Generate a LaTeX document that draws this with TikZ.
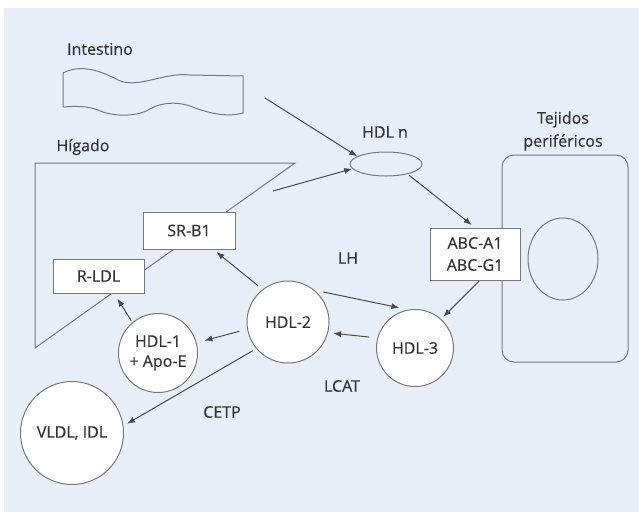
\documentclass[tikz,border=0pt]{standalone}
\usepackage{fontspec}
\setmainfont{Open Sans}[UprightFeatures={FakeBold=0.4}]
\usetikzlibrary{arrows.meta,shapes.geometric}
\definecolor{bgblue}{HTML}{E8EEF8}
\definecolor{edge}{HTML}{77777D}
\definecolor{ink}{HTML}{333333}
\definecolor{linkc}{HTML}{4A4A4A}
\tikzset{
  x=1pt, y=-1pt,
  every node/.style={text=ink, font=\fontsize{16}{19}\selectfont},
  outline/.style={draw=edge, line width=1pt},
  labelbox/.style={outline, fill=white, rectangle, inner sep=0pt, align=center},
  particle/.style={outline, fill=white, circle, inner sep=0pt, align=center},
  link/.style={draw=linkc, line width=1pt, -{Latex[length=8pt,width=6pt]}},
  plain/.style={align=center}
}
\begin{document}
\begin{tikzpicture}
% canvas
\useasboundingbox (0,0) rectangle (639,512);
\fill[white] (0,0) rectangle (639,512);
\fill[bgblue] (4,8) rectangle (639,512);

% intestine ribbon
\draw[outline] (63,107) -- (63,73)
  .. controls (80,64) and (100,70) .. (120,81)
  .. controls (140,88) and (165,72) .. (190,75)
  -- (243,76) -- (243,113)
  .. controls (225,118) and (205,112) .. (190,106)
  .. controls (175,101) and (160,103) .. (150,109)
  .. controls (135,118) and (110,116) .. (98,110)
  .. controls (88,106) and (75,106) .. (63,107);
\node[plain] (intlbl) at (100,49) {Intestino};

% liver outline
\draw[outline] (35,163) -- (295,163) -- (35,348) -- cycle;
\node[plain] (livlbl) at (83,147) {Hígado};

% peripheral tissue cell
\draw[outline, rounded corners=12pt] (502,155) rectangle (628,362);
\node[outline, ellipse, minimum width=70pt, minimum height=82pt, inner sep=0pt] (nucleus) at (563,259) {};
\node[plain, font=\fontsize{16}{23}\selectfont] (tislbl) at (563,131) {Tejidos\\periféricos};

% nascent HDL
\node[outline, ellipse, minimum width=72pt, minimum height=24pt, inner sep=0pt] (hdln) at (386,164) {};
\node[plain] (hdlnlbl) at (385,132) {HDL n};

% receptors
\node[labelbox, minimum width=92pt, minimum height=37pt] (srb1) at (189,230.5) {SR-B1};
\node[labelbox, minimum width=91pt, minimum height=34pt] (rldl) at (98.5,276) {R-LDL};
\node[labelbox, minimum width=90pt, minimum height=52pt, font=\fontsize{16}{22}\selectfont] (abc) at (475,254) {ABC-A1\\ABC-G1};

% lipoproteins
\node[particle, minimum size=82pt] (hdl2) at (288,322) {HDL-2};
\node[particle, minimum size=77pt] (hdl3) at (415,348) {HDL-3};
\node[particle, minimum size=79pt, font=\fontsize{16}{20}\selectfont] (hdl1) at (158,353) {HDL-1\\+ Apo-E};
\node[particle, minimum size=103pt] (vldl) at (72,433) {VLDL, IDL};

% enzyme labels
\node[plain] (lh) at (348,258) {LH};
\node[plain] (lcat) at (342,386) {LCAT};
\node[plain] (cetp) at (222,412) {CETP};

% transfer pathways
\coordinate (intout) at (265,98);
\coordinate (livout) at (273,191);
\draw[link] (intout) -- (hdln.165);
\draw[link] (livout) -- (hdln.188);
\draw[link, shorten <=2pt, shorten >=4pt] (hdln.-25) -- (abc.north);
\draw[link, shorten <=1pt, shorten >=3pt] (abc.-80) -- (hdl3.48);
\draw[link, shorten <=9pt, shorten >=9pt] (hdl2.50) -- (hdl3.100);
\draw[link, shorten <=8pt, shorten >=5pt] (hdl3.165) -- (hdl2.-15);
\draw[link, shorten <=6pt, shorten >=4pt] (hdl2.128) -- (srb1.-38);
\draw[link, shorten <=8pt, shorten >=8pt] (hdl2.190) -- (hdl1.15);
\draw[link, shorten <=2pt, shorten >=6pt] (hdl1.130) -- (rldl.-48);
\draw[link, shorten <=4pt, shorten >=4pt] (hdl2.-140) -- (vldl.8);
\end{tikzpicture}
\end{document}
